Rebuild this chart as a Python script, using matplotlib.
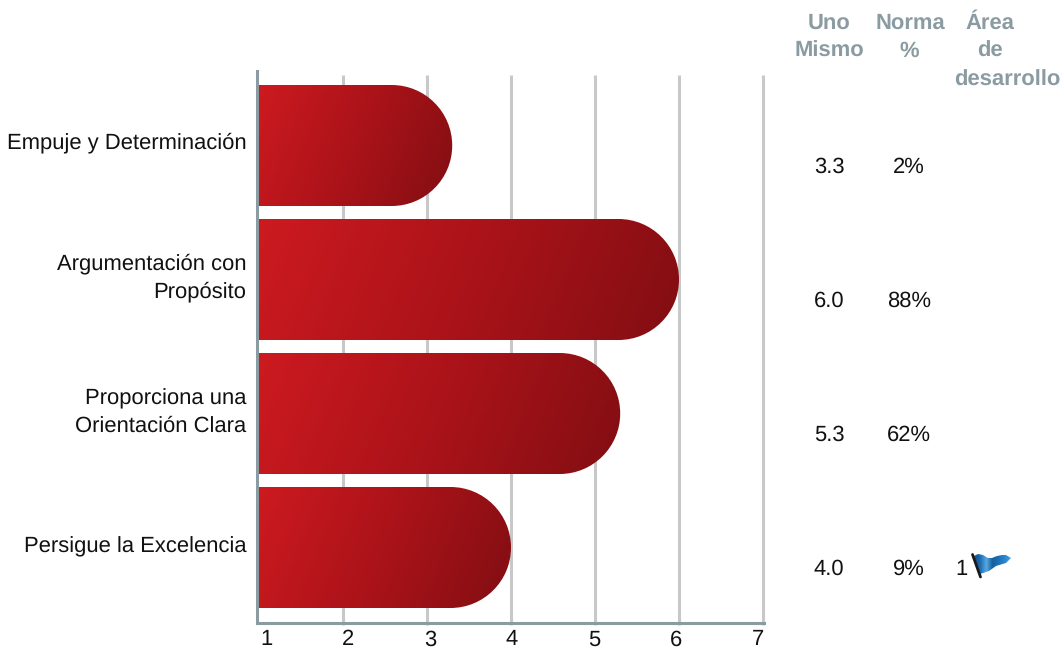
import matplotlib
matplotlib.use('Agg')
import matplotlib.pyplot as plt
import matplotlib.transforms as mtrans
import numpy as np
from matplotlib.colors import LinearSegmentedColormap
from matplotlib.patches import PathPatch
from matplotlib.path import Path

plt.rcParams['font.family'] = ['Liberation Sans', 'DejaVu Sans']
plt.rcParams['text.hinting'] = 'no_hinting'
plt.rcParams['text.hinting_factor'] = 1

# chart values
labels = ['Empuje y Determinación', 'Argumentación con\nPropósito',
          'Proporciona una\nOrientación Clara', 'Persigue la Excelencia']
scores = [3.3, 6.0, 5.3, 4.0]
uno_mismo = ['3.3', '6.0', '5.3', '4.0']
norma = ['2%', '88%', '62%', '9%']
area_count = ['', '', '', '1']
x_ticks = [1, 2, 3, 4, 5, 6, 7]
header_lines = ['Uno', 'Mismo', 'Norma', '%', 'Área', 'de', 'desarrollo']

W, H = 1064, 648
GREY = '#8a9ba1'
GRID = '#c8c8c8'
FS = 15.6

fig = plt.figure(figsize=(W / 100, H / 100), dpi=100)

# axes placed in pixels: x=1 at 259, one unit = 84 px, one row = 134 px
px_x, px_y = 84.0, 134.0
left, right, top, bottom = 257.0, 764.0, 71.0, 622.5
x_one = 259.0
first_row = 145.5
ax = fig.add_axes([left / W, 1 - bottom / H, (right - left) / W, (bottom - top) / H])
xlim = (1 - (x_one - left) / px_x, 1 + (right - x_one) / px_x)
ylim = ((bottom - first_row) / px_y, (top - first_row) / px_y)

for s in ['top', 'right']:
    ax.spines[s].set_visible(False)
for s in ['left', 'bottom']:
    ax.spines[s].set_color(GREY)
    ax.spines[s].set_linewidth(2.2)

# gridlines run a little past the bottom axis
trans = ax.get_xaxis_transform()
ax.vlines(x_ticks[1:], -0.005, 0.993, transform=trans, color=GRID, lw=2.2,
          zorder=1, clip_on=False)

# bars: gradient image clipped to a round-ended path
cmap = LinearSegmentedColormap.from_list('bar', ['#cc1a20', '#aa1319', '#820e13'])
bar_h = 121.0 / px_y
rx = (bar_h / 2) * px_y / px_x
k = 0.5523
for i, v in enumerate(scores):
    y0, y1 = i - bar_h / 2, i + bar_h / 2
    verts = [(1, y0), (v - rx, y0),
             (v - rx + k * rx, y0), (v, i - k * bar_h / 2), (v, i),
             (v, i + k * bar_h / 2), (v - rx + k * rx, y1), (v - rx, y1),
             (1, y1), (1, y0)]
    codes = [Path.MOVETO, Path.LINETO, Path.CURVE4, Path.CURVE4, Path.CURVE4,
             Path.CURVE4, Path.CURVE4, Path.CURVE4, Path.LINETO, Path.CLOSEPOLY]
    clip = PathPatch(Path(verts, codes), fc='none', ec='none', transform=ax.transData)
    ax.add_patch(clip)
    w_px = (v - 1) * px_x
    h_px = bar_h * px_y
    xx, yy = np.meshgrid(np.linspace(0, 1, 300), np.linspace(0, 1, 80))
    grad = (xx * w_px + yy * h_px * 0.4) / (w_px + h_px * 0.4)
    im = ax.imshow(grad, extent=(1, v, y1, y0), cmap=cmap, vmin=0, vmax=1,
                   aspect='auto', zorder=2, interpolation='bilinear')
    im.set_clip_path(clip)
ax.set_xlim(xlim)
ax.set_ylim(ylim)

# tick labels sit slightly off the gridlines in the original
ax.set_xticks(x_ticks)
ax.set_xticklabels([str(t) for t in x_ticks], fontsize=FS, color='#111111')
ax.tick_params(axis='x', length=0, pad=5)
for t, lab in zip(x_ticks, ax.get_xticklabels()):
    dx = (7 - 2 * (t - 1)) * 0.72
    lab.set_transform(lab.get_transform() + mtrans.ScaledTranslation(dx / 72, 0, fig.dpi_scale_trans))

ax.set_yticks(range(len(labels)))
ax.set_yticklabels(labels, fontsize=FS, color='#111111', ma='right', linespacing=1.4)
ax.tick_params(axis='y', length=0, pad=7.5)
label_lift = [5, 7.5, 6.5, 3]
for lab, dy in zip(ax.get_yticklabels(), label_lift):
    lab.set_transform(lab.get_transform() + mtrans.ScaledTranslation(0, dy / 100, fig.dpi_scale_trans))


def px_text(x, y, s, **kw):
    fig.text(x / W, 1 - y / H, s, ha='center', va='center', **kw)


# table on the right
header_x = [829, 829, 910, 909, 990, 990, 1007]
header_y = [23, 51, 23, 51, 23, 51, 80]
for x, y, s in zip(header_x, header_y, header_lines):
    px_text(x, y, s, fontsize=FS, fontweight='bold', color=GREY)

col_x = [829, 909]
for i in range(len(labels)):
    y = first_row + i * px_y + 21.5
    px_text(col_x[0], y, uno_mismo[i], fontsize=FS, color='#111111')
    px_text(col_x[1], y, norma[i], fontsize=FS, color='#111111')
    if area_count[i]:
        px_text(961, y, area_count[i], fontsize=FS, color='#111111')

# little blue flag icon next to the count
fx0, fy0, fw, fh = 968, 550, 46, 30
fax = fig.add_axes([fx0 / W, 1 - (fy0 + fh) / H, fw / W, fh / H])
fax.axis('off')
flag = Path([(974, 556), (978, 554), (983, 555), (988, 558), (992, 558), (997, 556),
             (1002, 555), (1006, 555), (1011, 558), (1006, 563), (996, 566),
             (989, 571), (980, 574), (974, 556)], closed=True)
patch = PathPatch(flag, fc='none', ec='none', transform=fax.transData)
fax.add_patch(patch)
blue = LinearSegmentedColormap.from_list(
    'flag', ['#0f4f8c', '#1d6db5', '#5aa9e0', '#14609f', '#1c6fb8', '#2a86cc', '#4a9fd8'])
im = fax.imshow(np.linspace(0, 1, 100).reshape(1, -1), extent=(974, 1011, 575, 552),
                cmap=blue, aspect='auto', interpolation='bilinear')
im.set_clip_path(patch)
fax.plot([972.5, 980.5], [554.5, 577], color='#1a1a1a', lw=2.0, solid_capstyle='round')
fax.set_xlim(fx0, fx0 + fw)
fax.set_ylim(fy0 + fh, fy0)

fig.savefig('out.png', dpi=100)
